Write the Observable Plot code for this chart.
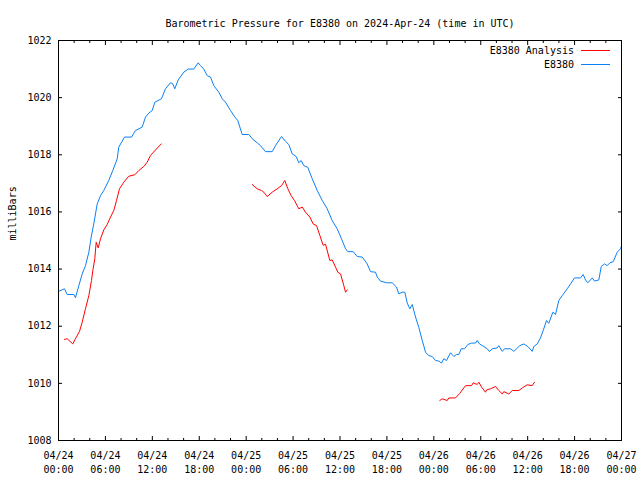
<!DOCTYPE html>
<html>
<head>
<meta charset="utf-8">
<script src="https://cdn.jsdelivr.net/npm/d3@7"></script>
<script src="https://cdn.jsdelivr.net/npm/@observablehq/plot@0.6"></script>
<style>
  body { margin: 0; background: #fff; }
  #wrap { position: relative; width: 640px; height: 480px; font-family: "DejaVu Sans Mono", monospace; font-size: 10px; }
  #legend { position: absolute; top: 43px; right: 30px; }
  .row { display: flex; align-items: center; justify-content: flex-end; height: 14px; }
  .sw { display: inline-block; width: 29px; height: 0; margin-left: 7px; border-top: 1px solid; }
</style>
</head>
<body>
<div id="wrap"><div id="legend"></div></div>
<script>
const titleText = "Barometric Pressure for E8380 on 2024-Apr-24 (time in UTC)";
const yLabel = "milliBars";
const startTime = "2024-04-24T00:00:00Z";
const seriesNames = ["E8380 Analysis", "E8380"];
const seriesColors = ["#ff0000", "#0a80f5"];
const yTicks = [1008, 1010, 1012, 1014, 1016, 1018, 1020, 1022];
const majorTickHours = [0, 6, 12, 18, 24, 30, 36, 42, 48, 54, 60, 66, 72];
const minorTickHours = [2, 4, 8, 10, 14, 16, 20, 22, 26, 28, 32, 34, 38, 40, 44, 46, 50, 52, 56, 58, 62, 64, 68, 70];

// E8380 observed (hours since start, mb)
const stationHours = [0.0,0.77,1.11,1.96,2.17,2.6,3.03,3.45,3.88,4.18,4.51,4.95,5.37,5.79,6.43,6.94,7.51,7.71,8.44,9.34,9.85,10.7,11.13,11.55,11.98,12.32,13.17,13.68,14.32,14.62,14.87,15.31,16.02,16.59,17.3,17.87,18.16,18.58,19.02,19.44,19.86,20.5,20.94,21.36,22.0,22.55,22.93,23.49,24.34,24.9,25.41,25.83,26.47,27.33,27.75,28.52,29.03,29.45,29.89,30.4,30.73,31.04,31.37,31.88,32.45,33.09,33.73,34.36,35.0,35.64,36.19,36.71,37.0,37.69,38.2,38.84,39.48,39.9,40.54,40.76,41.18,41.95,42.68,43.23,43.52,43.96,44.29,44.6,44.93,45.24,45.66,46.08,46.52,46.94,47.36,47.79,48.22,48.64,48.98,49.28,49.62,50.13,50.56,50.9,51.2,51.5,51.92,52.35,52.82,53.33,53.55,53.84,54.39,54.83,55.12,55.47,56.1,56.31,56.75,57.04,57.81,58.23,58.57,59.0,59.51,60.02,60.58,60.79,61.22,61.64,61.99,62.41,62.7,63.22,63.56,63.98,64.42,65.06,65.48,65.99,66.76,67.1,67.4,67.69,68.26,68.55,69.1,69.41,69.83,70.17,70.51,70.94,71.45,71.87,72.0];
const stationValues = [1013.22,1013.31,1013.11,1013.11,1013.0,1013.42,1013.83,1014.12,1014.59,1015.12,1015.58,1016.28,1016.57,1016.75,1017.1,1017.45,1017.86,1018.27,1018.62,1018.62,1018.85,1018.97,1019.32,1019.46,1019.55,1019.84,1019.96,1020.31,1020.52,1020.48,1020.31,1020.62,1020.89,1021.0,1021.0,1021.22,1021.12,1021.0,1020.77,1020.72,1020.42,1020.19,1019.96,1019.84,1019.55,1019.32,1019.2,1018.71,1018.71,1018.53,1018.42,1018.32,1018.11,1018.11,1018.32,1018.64,1018.47,1018.36,1018.03,1017.94,1017.72,1017.8,1017.62,1017.56,1017.16,1016.75,1016.4,1016.11,1015.7,1015.41,1015.06,1014.71,1014.61,1014.61,1014.44,1014.42,1014.18,1013.91,1013.89,1013.72,1013.58,1013.52,1013.52,1013.37,1013.13,1013.19,1013.19,1012.81,1012.61,1012.76,1012.32,1011.96,1011.5,1011.09,1010.97,1010.94,1010.8,1010.78,1010.71,1010.86,1010.8,1011.07,1010.94,1011.01,1011.01,1011.21,1011.21,1011.36,1011.41,1011.41,1011.5,1011.38,1011.29,1011.21,1011.11,1011.21,1011.24,1011.32,1011.12,1011.21,1011.21,1011.12,1011.21,1011.32,1011.38,1011.29,1011.12,1011.29,1011.38,1011.59,1011.85,1012.2,1012.1,1012.49,1012.41,1012.9,1013.07,1013.31,1013.48,1013.69,1013.69,1013.81,1013.62,1013.52,1013.69,1013.58,1013.62,1014.09,1014.18,1014.12,1014.22,1014.26,1014.59,1014.71,1014.8];

// E8380 Analysis, three segments
const analysis1Hours = [0.77,1.11,1.83,2.17,2.69,3.03,3.45,3.88,4.22,4.39,4.64,4.82,5.08,5.37,5.79,6.23,6.65,7.07,7.42,7.8,8.35,8.99,9.76,10.27,10.91,11.34,11.77,12.41,13.13];
const analysis1Values = [1011.54,1011.56,1011.38,1011.56,1011.82,1012.14,1012.61,1013.07,1013.6,1013.95,1014.36,1014.94,1014.74,1015.06,1015.37,1015.56,1015.82,1016.05,1016.4,1016.81,1017.04,1017.25,1017.3,1017.45,1017.59,1017.74,1017.98,1018.17,1018.38];
const analysis2Hours = [24.77,25.41,25.96,26.26,26.69,27.33,27.97,28.52,28.94,29.33,29.76,30.18,30.73,31.17,31.59,32.14,32.57,33.0,33.42,33.85,34.15,34.7,35.0,35.43,35.72,36.07,36.49,36.71,36.92];
const analysis2Values = [1016.96,1016.81,1016.75,1016.69,1016.54,1016.69,1016.81,1016.92,1017.1,1016.81,1016.57,1016.4,1016.11,1016.17,1015.99,1015.82,1015.58,1015.52,1015.18,1014.83,1014.87,1014.3,1014.32,1014.07,1013.89,1013.83,1013.42,1013.19,1013.27];
const analysis3Hours = [48.76,49.07,49.71,49.92,50.77,51.32,52.05,52.82,53.04,53.55,53.76,54.1,54.61,54.74,55.25,55.89,56.31,56.75,56.95,57.59,58.03,58.87,59.31,59.94,60.58,60.87];
const analysis3Values = [1009.4,1009.46,1009.4,1009.49,1009.49,1009.65,1009.92,1009.92,1010.02,1009.96,1010.04,1009.87,1009.69,1009.77,1009.81,1009.89,1009.75,1009.63,1009.71,1009.63,1009.75,1009.75,1009.84,1009.95,1009.92,1010.04];

const t0 = new Date(startTime).getTime();
const toDate = h => new Date(t0 + h * 3600e3);
const mk = (hs, vs, seg) => hs.map((h, i) => ({t: toDate(h), p: vs[i], seg}));
const station = mk(stationHours, stationValues, 0);
const analysis = [
  ...mk(analysis1Hours, analysis1Values, 1),
  ...mk(analysis2Hours, analysis2Values, 2),
  ...mk(analysis3Hours, analysis3Values, 3)
];
const majorTicks = majorTickHours.map(toDate);
const minorTicks = minorTickHours.map(toDate);
const fmt = d3.utcFormat("%m/%d\n%H:%M");
const blank = () => "";

const chart = Plot.plot({
  width: 640,
  height: 480,
  marginTop: 40,
  marginRight: 19,
  marginBottom: 40,
  marginLeft: 58,
  style: {fontFamily: "DejaVu Sans Mono, monospace", fontSize: "10px", background: "#fff", color: "#000"},
  x: {type: "utc", domain: [toDate(0), toDate(72)], label: null},
  y: {domain: [1008, 1022], label: null},
  marks: [
    Plot.line(analysis, {x: "t", y: "p", z: "seg", stroke: seriesColors[0], strokeWidth: 1}),
    Plot.line(station, {x: "t", y: "p", stroke: seriesColors[1], strokeWidth: 1}),
    Plot.frame({stroke: "#000"}),
    Plot.axisX({anchor: "bottom", ticks: majorTicks, tickSize: -4, tickPadding: 13, tickFormat: fmt, lineHeight: 1.35, label: null}),
    Plot.axisX({anchor: "bottom", ticks: minorTicks, tickSize: -2, tickFormat: blank, label: null}),
    Plot.axisX({anchor: "top", ticks: majorTicks, tickSize: -4, tickFormat: blank, label: null}),
    Plot.axisX({anchor: "top", ticks: minorTicks, tickSize: -2, tickFormat: blank, label: null}),
    Plot.axisY({anchor: "left", ticks: yTicks, tickSize: -4, tickPadding: 11, tickFormat: d => String(d), label: null}),
    Plot.axisY({anchor: "right", ticks: yTicks, tickSize: -4, tickFormat: blank, label: null}),
    Plot.text([titleText], {text: d => d, frameAnchor: "top", dy: -21}),
    Plot.text([yLabel], {text: d => d, frameAnchor: "left", rotate: -90, dx: -46})
  ]
});
document.getElementById("wrap").prepend(chart);

const legend = document.getElementById("legend");
seriesNames.forEach((name, i) => {
  const row = document.createElement("div");
  row.className = "row";
  const label = document.createElement("span");
  label.textContent = name;
  const sw = document.createElement("span");
  sw.className = "sw";
  sw.style.borderTopColor = seriesColors[i];
  row.append(label, sw);
  legend.append(row);
});
</script>
</body>
</html>
